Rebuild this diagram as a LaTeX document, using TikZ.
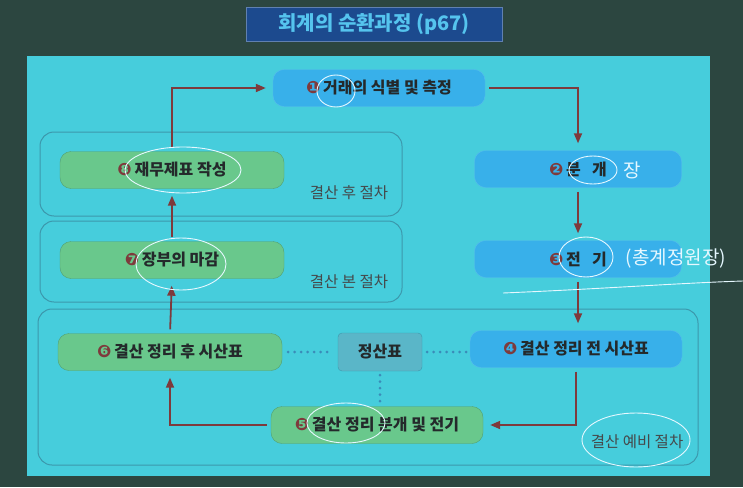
\documentclass[tikz,border=0pt]{standalone}
\usepackage{fontspec}
\setmainfont{Noto Sans CJK KR}
\newfontfamily\dingfont{DejaVu Sans}
\usetikzlibrary{arrows.meta}

\definecolor{slidebg}{HTML}{2C4640}
\definecolor{panel}{HTML}{46CDDC}
\definecolor{titlebg}{HTML}{1C4A8E}
\definecolor{titletxt}{HTML}{55C4EE}
\definecolor{stepblue}{HTML}{38B0EA}
\definecolor{stepgreen}{HTML}{69C88C}
\definecolor{sheetfill}{HTML}{5AB6C8}
\definecolor{frameline}{HTML}{3C98AC}
\definecolor{flowred}{HTML}{7E3A3C}
\definecolor{dotline}{HTML}{3A8CB8}
\definecolor{inktxt}{HTML}{24292B}
\definecolor{penwhite}{HTML}{E6F8FF}

\newcommand{\stepno}[1]{{\dingfont\fontsize{17}{17}\selectfont\color{flowred}#1}\,}

\tikzset{
  stepbox/.style={rounded corners=11pt, minimum width=212pt, minimum height=37pt,
    text=inktxt, font=\bfseries\fontsize{16}{16}\selectfont},
  bluestep/.style={stepbox, fill=stepblue, draw=stepblue!85!white},
  greenstep/.style={stepbox, fill=stepgreen, draw=stepgreen!80!black},
  stage/.style={draw=frameline, line width=1pt, rounded corners=14pt},
  stagelabel/.style={text=inktxt!85, font=\fontsize{15.5}{15.5}\selectfont},
  flow/.style={draw=flowred, line width=1.8pt, -{Triangle[length=10pt,width=8pt]},
    shorten >=7pt, shorten <=4pt},
  dotlink/.style={draw=dotline, line width=3pt, line cap=round, dash pattern=on 0pt off 6.5pt},
  scrawl/.style={draw=penwhite, line width=0.9pt},
  penword/.style={text=penwhite, font=\fontsize{19}{19}\selectfont}
}

\begin{document}
\begin{tikzpicture}[x=1pt,y=-1pt]
  \fill[slidebg] (0,0) rectangle (743,487);
  \useasboundingbox (0,0) rectangle (743,487);
  \fill[panel] (27,56) rectangle (710,476);
  \node[fill=titlebg, draw=titlebg!70!white, minimum width=256pt, minimum height=34pt,
    text=titletxt, font=\bfseries\fontsize{20}{20}\selectfont] (title) at (374,24) {회계의 순환과정 (p67)};

  \draw[stage] (40,132) rectangle (402,216);
  \draw[stage] (40,221) rectangle (402,302);
  \draw[stage] (38,309) rectangle (698,465);
  \node[stagelabel] (after) at (349,193) {결산 후 절차};
  \node[stagelabel] (main) at (349,282) {결산 본 절차};
  \node[stagelabel] (prelim) at (637,442) {결산 예비 절차};

  \node[bluestep] (identify) at (379,88) {\stepno{❶}거래의 식별 및 측정};
  \node[bluestep, minimum width=207pt] (journal) at (578,169) {\stepno{❷}분\hspace{0.7em}개};
  \node[bluestep, minimum width=207pt] (posting) at (578,259) {\stepno{❸}전\hspace{0.7em}기};
  \node[bluestep] (pretrial) at (576,349) {\stepno{❹}결산 정리 전 시산표};
  \node[greenstep] (adjust) at (377,425) {\stepno{❺}결산 정리 분개 및 전기};
  \node[greenstep, minimum width=224pt] (posttrial) at (170,352) {\stepno{❻}결산 정리 후 시산표};
  \node[greenstep, minimum width=224pt] (closing) at (172,260) {\stepno{❼}장부의 마감};
  \node[greenstep, minimum width=224pt] (statements) at (172,170) {\stepno{❽}재무제표 작성};
  \node[fill=sheetfill, draw=frameline, rounded corners=4pt, minimum width=84pt, minimum height=38pt,
    text=inktxt, font=\bfseries\fontsize{16}{16}\selectfont] (worksheet) at (380,352) {정산표};

  \draw[flow] (statements.north) |- (identify.west);
  \draw[flow] (identify.east) -| (journal.north);
  \draw[flow] (journal.south) -- (posting.north);
  \draw[flow] (posting.south) -- (posting.south |- pretrial.north);
  \draw[flow] (pretrial.south) |- (adjust.east);
  \draw[flow] (adjust.west) -| (posttrial.south);
  \draw[flow] (posttrial.north) -- (closing.south);
  \draw[flow] (closing.north) -- (statements.south);

  \draw[dotlink, shorten <=6pt, shorten >=5pt] (posttrial.east) -- (posttrial.east -| worksheet.west);
  \draw[dotlink, shorten <=5pt, shorten >=2pt] (worksheet.east) -- (worksheet.east -| pretrial.west);
  \draw[dotlink, shorten <=4pt, shorten >=4pt] (worksheet.south) -- (worksheet.south |- adjust.north);

  \foreach \cx/\cy/\rx/\ry in {336/91/19/16, 183/170/58/23, 181/264/45/26, 593/170/24/14,
                              586/257/27/20, 346/423/39/20, 636/440/54/27}
    \draw[scrawl] (\cx,\cy) ellipse [x radius=\rx, y radius=\ry];
  \node[penword] (jang) at (632,170) {장};
  \node[penword] (ledger) at (676,258) {(총계정원장)};
  \draw[scrawl] (503,293) .. controls (600,289) and (680,283) .. (743,281);
\end{tikzpicture}
\end{document}
